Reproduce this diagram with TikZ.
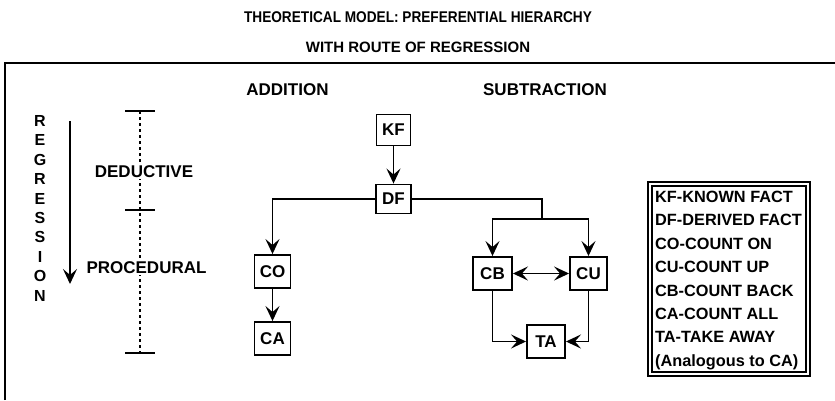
\documentclass[tikz,border=0pt]{standalone}
\usepackage{fontspec}
\setmainfont{Liberation Sans}
\newfontfamily\titlefont[FakeStretch=0.88]{Liberation Sans}
\usetikzlibrary{arrows.meta}
\begin{document}
\begin{tikzpicture}[x=1pt,y=-1pt,
  box/.style={draw,line width=1.9pt,minimum width=36pt,minimum height=33pt,inner sep=0pt,font=\bfseries\fontsize{17}{20}\selectfont},
  lbl/.style={font=\bfseries\fontsize{17}{20}\selectfont,inner sep=1pt},
  tip/.tip={Stealth[length=15pt,width=14pt,inset=6pt]},
  arr/.style={line width=1.9pt,-tip},
  tick/.style={line width=1.8pt}]
\useasboundingbox (0,0) rectangle (835,400);
% title
\node[font=\titlefont\bfseries\fontsize{15.5}{18}\selectfont] (t1) at (418,17) {THEORETICAL MODEL: PREFERENTIAL HIERARCHY};
\node[font=\bfseries\fontsize{15}{18}\selectfont] (t2) at (418,47) {WITH ROUTE OF REGRESSION};
% frame (top and left only)
\coordinate (fl) at (5,400);
\coordinate (fc) at (5,63);
\coordinate (fr) at (835,63);
\draw[line width=2.2pt] (fl) -- (fc) -- (fr);
% regression letters
\foreach \c [count=\i from 0] in {R,E,G,R,E,S,S,I,O,N}{
  \node[font=\bfseries\fontsize{16}{18}\selectfont,inner sep=0pt] (r\i) at (40,121+\i*19.4) {\c};
}
\coordinate (ra) at (70,121);
\coordinate (rb) at (70,284);
\draw[arr] (ra) -- (rb);
% dotted scale
\coordinate (s1) at (140,111);
\coordinate (s2) at (140,210);
\coordinate (s3) at (140,353);
\draw[line width=1.6pt,dash pattern=on 3pt off 3pt] (s1) -- (s3);
\draw[tick] ([xshift=-15pt]s1) -- ([xshift=15pt]s1);
\draw[tick] ([xshift=-15pt]s2) -- ([xshift=15pt]s2);
\draw[tick] ([xshift=-15pt]s3) -- ([xshift=15pt]s3);
\node[lbl,fill=white] (ded) at (144,172) {DEDUCTIVE};
\node[lbl,fill=white] (pro) at (146.5,268) {PROCEDURAL};
% headings
\node[lbl] (add) at (287.5,90) {ADDITION};
\node[lbl] (sub) at (545,90) {SUBTRACTION};
% boxes
\node[box,minimum width=34pt,minimum height=31pt] (KF) at (393.5,130) {KF};
\node[box,minimum width=35pt,minimum height=29pt] (DF) at (393.5,199) {DF};
\node[box] (CO) at (272.5,271.5) {CO};
\node[box] (CA) at (272.5,338.5) {CA};
\node[box,minimum width=39pt] (CB) at (492.5,273.5) {CB};
\node[box,minimum width=37pt] (CU) at (588.5,273.5) {CU};
\node[box,minimum width=38pt] (TA) at (546,341.5) {TA};
% connectors
\draw[arr] (KF) -- (DF);
\draw[arr] (DF.west) -| (CO.north);
\draw[arr] (CO) -- (CA);
\coordinate (j) at (542,219);
\draw[arr] (DF.east) -| (j) -| (CB.north);
\draw[arr] (j) -| (CU.north);
\draw[line width=1.9pt,tip-tip] (CB) -- (CB -| CU.west);
\draw[arr] (CB.south) |- (TA.west);
\draw[arr] (CU.south) |- (TA.east);
% legend
\node[draw,line width=2.2pt,minimum width=162pt,minimum height=194pt,inner sep=0pt] (lego) at (729,279) {};
\node[draw,line width=1.6pt,minimum width=154pt,minimum height=186pt,inner sep=0pt] (legi) at (729,279) {};
\node[anchor=north west,align=left,inner sep=0pt,
  font=\bfseries\fontsize{16.3}{23.4}\selectfont] (legt) at (655,191)
  {KF-KNOWN FACT\\DF-DERIVED FACT\\CO-COUNT ON\\CU-COUNT UP\\CB-COUNT BACK\\CA-COUNT ALL\\TA-TAKE AWAY\\(Analogous to CA)};
\end{tikzpicture}
\end{document}
